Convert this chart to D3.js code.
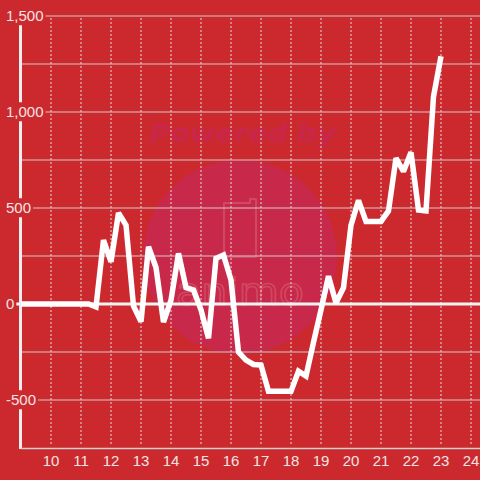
<!DOCTYPE html>
<html>
<head>
<meta charset="utf-8">
<script src="https://cdn.jsdelivr.net/npm/d3@7"></script>
<style>
html,body{margin:0;padding:0;background:#cc292e;}
svg{display:block;}
</style>
</head>
<body>
<svg id="chart" width="480" height="480"></svg>
<script>
// ---- data ----
const hours = [9,9.25,9.5,9.75,10,10.25,10.5,10.75,11,11.25,11.5,11.75,12,12.25,12.5,12.75,13,13.25,13.5,13.75,14,14.25,14.5,14.75,15,15.25,15.5,15.75,16,16.25,16.5,16.75,17,17.25,17.5,17.75,18,18.25,18.5,18.75,19,19.25,19.5,19.75,20,20.25,20.5,20.75,21,21.25,21.5,21.75,22,22.25,22.5,22.75,23];
const values = [0,0,0,0,0,0,0,0,0,0,-15,333,220,474,411,-10,-92,298,190,-95,20,264,85,73,-30,-179,238,255,125,-250,-292,-315,-318,-455,-455,-455,-455,-350,-375,-200,-30,145,5,85,410,540,430,430,430,485,760,690,790,490,485,1080,1290];
const xTicks = [10,11,12,13,14,15,16,17,18,19,20,21,22,23,24];
const yLabelTicks = [-500,0,500,1000,1500];
const yGridTicks = [-500,-250,0,250,500,750,1000,1250,1500];

const W = 480, H = 480;
const bg = "#cc292e";
const svg = d3.select("#chart");

const x = d3.scaleLinear().domain([9, 24.3]).range([21, 480]);
const y = d3.scaleLinear().domain([-750, 1500]).range([448, 16]);

svg.append("rect").attr("width", W).attr("height", H).attr("fill", bg);

// watermark
const wm = svg.append("g");
wm.append("circle").attr("cx", 240).attr("cy", 257).attr("r", 97).attr("fill", "#c8284a");
wm.append("text").attr("x", 150).attr("y", 142)
  .attr("textLength", 186).attr("lengthAdjust", "spacingAndGlyphs")
  .attr("font-family", "DejaVu Sans").attr("font-weight", "bold").attr("font-style", "italic")
  .attr("font-size", 25).attr("fill", "#c8274a").text("Powered by");
wm.append("path")
  .attr("d", "M224,203 h26 v-4 h6 v58 h-32 z")
  .attr("fill", "none").attr("stroke", "#d24862").attr("stroke-width", 2).attr("stroke-linejoin", "round");
wm.append("text").attr("x", 176).attr("y", 305)
  .attr("textLength", 128).attr("lengthAdjust", "spacingAndGlyphs")
  .attr("font-family", "DejaVu Sans").attr("font-size", 38)
  .attr("fill", "none").attr("stroke", "#d24862").attr("stroke-width", 1.5).text("animo");

// vertical dotted grid
svg.append("g").selectAll("line").data(xTicks).join("line")
  .attr("x1", d => x(d)).attr("x2", d => x(d))
  .attr("y1", 18).attr("y2", 446)
  .attr("stroke", "#e6dede").attr("stroke-width", 1).attr("stroke-dasharray", "2,2");

const gridG = svg.append("g");

// y axis line
svg.append("line").attr("x1", 20.5).attr("x2", 20.5).attr("y1", 16).attr("y2", 449)
  .attr("stroke", "#eeeeee").attr("stroke-width", 3);

// bottom axis line
svg.append("line").attr("x1", 21).attr("x2", 480).attr("y1", 448.5).attr("y2", 448.5)
  .attr("stroke", "#cfcfcf").attr("stroke-width", 1.5);

const yLabelG = svg.append("g");
const fmt = d3.format(",");
const labelEnd = {};
yLabelTicks.forEach(t => {
  const txt = yLabelG.append("text").attr("x", 6).attr("y", y(t)).attr("dy", "0.35em")
    .attr("font-family", "Liberation Sans").attr("font-size", 15)
    .attr("fill", "#f2e4e4").text(fmt(t).replace("−", "-"));
  const bb = txt.node().getBBox();
  yLabelG.insert("rect", "text").attr("x", bb.x - 1).attr("y", bb.y - 1)
    .attr("width", bb.width + 2).attr("height", bb.height + 2).attr("fill", bg);
  labelEnd[t] = bb.x + bb.width + 2;
});

yGridTicks.forEach(t => {
  const x1 = labelEnd[t] !== undefined ? labelEnd[t] : 21;
  gridG.append("line").attr("x1", x1).attr("x2", 480).attr("y1", y(t)).attr("y2", y(t))
    .attr("stroke", t === 0 ? "#f4f4f4" : "#cccccc").attr("stroke-width", t === 0 ? 3 : 1.2);
});
yLabelG.raise();

// x labels
svg.append("g").selectAll("text").data(xTicks).join("text")
  .attr("x", d => x(d)).attr("y", 466).attr("text-anchor", "middle")
  .attr("font-family", "Liberation Sans").attr("font-size", 15)
  .attr("fill", "#f2e4e4").text(d => d);

// data line
const line = d3.line().x((d, i) => x(hours[i])).y(d => y(d));
svg.append("path").datum(values).attr("d", line)
  .attr("fill", "none").attr("stroke", "#ffffff").attr("stroke-width", 5.5)
  .attr("stroke-linejoin", "miter").attr("stroke-miterlimit", 2);
</script>
</body>
</html>
